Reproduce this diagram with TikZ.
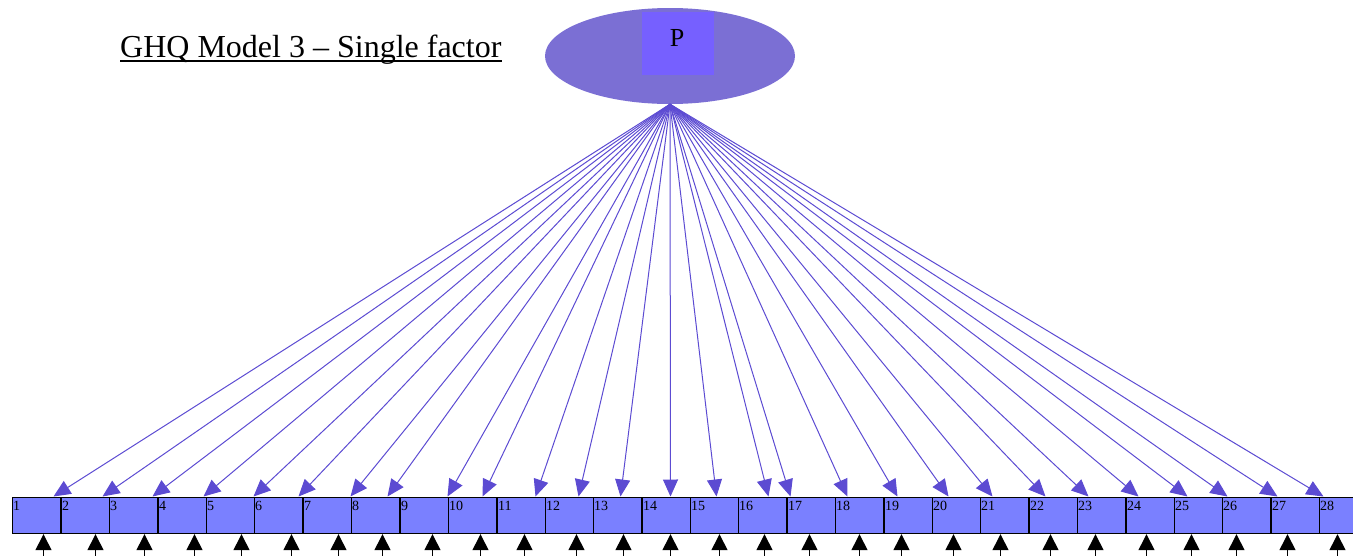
\documentclass[tikz,border=0pt]{standalone}
\usepackage{fontspec}
\setmainfont{Liberation Serif}
\usetikzlibrary{arrows.meta,shapes.geometric,calc}
\definecolor{boxfill}{RGB}{122,128,255}
\definecolor{loadcol}{RGB}{92,75,210}
\definecolor{ellfill}{RGB}{123,111,212}
\definecolor{sqfill}{RGB}{118,96,255}
\tikzset{
  obsbox/.style={draw=black, line width=1.7pt, fill=boxfill, minimum width=48.4pt, minimum height=36pt, inner sep=0pt, anchor=north west},
  numlab/.style={font=\fontsize{14}{14}\selectfont, inner sep=1.5pt, anchor=north west},
  loadarrow/.style={draw=loadcol, line width=1pt, -{Triangle[length=17pt,width=15pt]}},
  errarrow/.style={draw=black, line width=1.4pt, -{Triangle[length=16pt,width=16pt]}},
}
\begin{document}
\begin{tikzpicture}[x=1pt,y=-1pt]
\useasboundingbox (0,0) rectangle (1353,555);
% factor
\node[ellipse, fill=ellfill, minimum width=250pt, minimum height=96pt, inner sep=0pt] (P) at (670,56) {};
\node[fill=sqfill, minimum width=72pt, minimum height=63pt, inner sep=0pt] (Psq) at (678,43.5) {};
\node[font=\fontsize{26}{26}\selectfont, inner sep=0pt] (Plab) at (677,38) {P};
% title
\node[font=\fontsize{32}{32}\selectfont, inner sep=0pt, anchor=base west] (title) at (120,57) {GHQ Model 3 – Single factor};
\draw[line width=1.4pt] ([yshift=-4pt]title.base west) -- ([yshift=-4pt]title.base east);
% boxes
\foreach \i/\l in {1/11,2/60,3/108,4/157,5/205,6/253,7/302,8/350,9/399,10/447,11/496,12/544,13/592,14/641,15/689,16/737,17/786,18/834,19/883,20/931,21/979,22/1028,23/1076,24/1125,25/1173,26/1221,27/1270,28/1318}{
  \node[obsbox] (b\i) at (\l+0.5,496.5) {};
  \node[numlab] at ([yshift=-3pt]b\i.north west) {\i};
}
% loadings
\foreach \i/\t in {1/42,2/42,3/44,4/46,5/48,6/45,7/48,8/37,9/48,10/35,11/39,12/34,13/28,14/29,15/27,16/31,17/4,18/13,19/14,20/17,21/13,22/17,23/12,24/13,25/14,26/6,27/7,28/5}{
  \draw[loadarrow] (P.south) -- ([xshift=\t pt]b\i.north west);
}
% error arrows
\foreach \i/\s in {1/32,2/35,3/36,4/37,5/36,6/38,7/36,8/32,9/33,10/33,11/28,12/32,13/31,14/29,15/30,16/27,17/23,18/25,19/18,20/22,21/21,22/22,23/19,24/21,25/18,26/15,27/17,28/19}{
  \coordinate (e\i) at ([xshift=\s pt, yshift=-28pt]b\i.south west);
  \draw[errarrow] (e\i) -- ([xshift=\s pt]b\i.south west);
}
\end{tikzpicture}
\end{document}
